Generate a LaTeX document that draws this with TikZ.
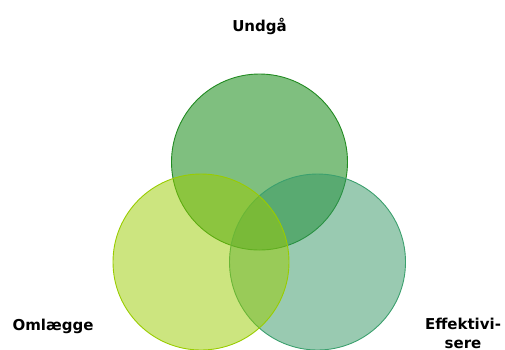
\documentclass[tikz,border=0pt]{standalone}
\usepackage{fontspec}
\setmainfont{DejaVu Sans}
\definecolor{topbase}{RGB}{0,128,0}
\definecolor{topline}{RGB}{34,139,34}
\definecolor{rightbase}{RGB}{51,150,100}
\definecolor{rightline}{RGB}{60,160,110}
\definecolor{leftbase}{RGB}{153,204,0}
\definecolor{leftline}{RGB}{153,204,0}
\tikzset{
  venn/.style={circle, minimum size=176pt, inner sep=0pt, line width=0.9pt, fill opacity=0.5},
  lbl/.style={font=\fontsize{15}{19}\selectfont\bfseries, text=black, align=center, inner sep=0pt}
}
\begin{document}
\begin{tikzpicture}[x=1pt,y=-1pt]
\useasboundingbox (0,0) rectangle (505,349);
\node[venn, draw=topline, fill=topbase] (top) at (259.5,162) {};
\node[venn, draw=rightline, fill=rightbase] (right) at (317.5,262) {};
\node[venn, draw=leftline, fill=leftbase] (left) at (201,262) {};
\node[lbl, anchor=base] (undga) at (259.5,31) {Undgå};
\node[lbl, anchor=base] (omlaegge) at (53,330) {Omlægge};
\node[lbl, anchor=base] (effekt) at (463,329) {Effektivi-};
\node[lbl, anchor=base] (sere) at (463,348) {sere};
\end{tikzpicture}
\end{document}
